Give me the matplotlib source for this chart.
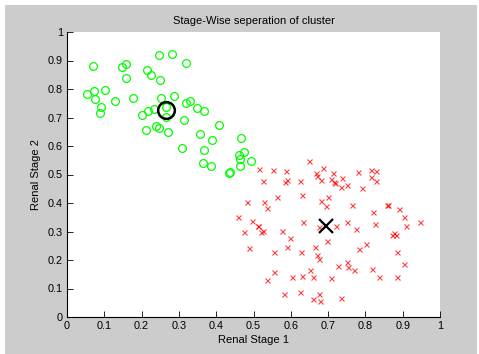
import matplotlib
matplotlib.use("Agg")
import matplotlib.pyplot as plt
from matplotlib.patches import Rectangle

# Cluster 1 (green circles)
green_x = [0.053, 0.071, 0.073, 0.076, 0.092, 0.089, 0.102, 0.129, 0.147, 0.159,
           0.157, 0.177, 0.202, 0.214, 0.225, 0.218, 0.212, 0.233, 0.246, 0.248,
           0.251, 0.239, 0.247, 0.265, 0.265, 0.272, 0.281, 0.286, 0.318, 0.319,
           0.330, 0.315, 0.348, 0.368, 0.308, 0.357, 0.389, 0.368, 0.408, 0.364,
           0.387, 0.435, 0.437, 0.467, 0.474, 0.462, 0.464, 0.465, 0.492]
green_y = [0.781, 0.881, 0.793, 0.765, 0.737, 0.716, 0.798, 0.757, 0.877, 0.887,
           0.840, 0.768, 0.710, 0.868, 0.850, 0.723, 0.655, 0.729, 0.918, 0.830,
           0.768, 0.671, 0.662, 0.737, 0.703, 0.648, 0.924, 0.777, 0.891, 0.751,
           0.757, 0.690, 0.733, 0.724, 0.593, 0.642, 0.622, 0.587, 0.675, 0.539,
           0.529, 0.505, 0.508, 0.628, 0.578, 0.569, 0.554, 0.531, 0.548]

# Cluster 2 (red crosses)
red_x = [0.650, 0.516, 0.553, 0.587, 0.525, 0.589, 0.585, 0.626, 0.668, 0.669,
         0.686, 0.681, 0.714, 0.708, 0.715, 0.719, 0.736, 0.735, 0.751, 0.781,
         0.815, 0.828, 0.816, 0.829, 0.792, 0.564, 0.631, 0.701, 0.682, 0.695,
         0.483, 0.527, 0.537, 0.765, 0.859, 0.860, 0.889, 0.821, 0.458, 0.497,
         0.512, 0.513, 0.526, 0.520, 0.475, 0.576, 0.634, 0.676, 0.720, 0.751,
         0.776, 0.827, 0.903, 0.946, 0.910, 0.870, 0.883, 0.876, 0.598, 0.698,
         0.801, 0.784, 0.488, 0.555, 0.589, 0.628, 0.665, 0.669, 0.676, 0.886,
         0.751, 0.727, 0.754, 0.769, 0.903, 0.818, 0.651, 0.555, 0.537, 0.603,
         0.631, 0.659, 0.707, 0.836, 0.884, 0.583, 0.624, 0.675, 0.660, 0.679,
         0.735]
red_y = [0.546, 0.519, 0.517, 0.513, 0.478, 0.482, 0.473, 0.478, 0.505, 0.495,
         0.523, 0.482, 0.505, 0.484, 0.475, 0.471, 0.488, 0.457, 0.464, 0.508,
         0.516, 0.511, 0.490, 0.478, 0.452, 0.422, 0.429, 0.422, 0.407, 0.391,
         0.404, 0.404, 0.384, 0.393, 0.393, 0.394, 0.379, 0.367, 0.350, 0.338,
         0.318, 0.319, 0.303, 0.297, 0.297, 0.301, 0.333, 0.315, 0.320, 0.333,
         0.308, 0.326, 0.350, 0.333, 0.320, 0.289, 0.288, 0.294, 0.276, 0.268,
         0.255, 0.239, 0.241, 0.227, 0.245, 0.229, 0.247, 0.219, 0.204, 0.229,
         0.194, 0.179, 0.174, 0.165, 0.186, 0.168, 0.165, 0.159, 0.130, 0.141,
         0.145, 0.139, 0.136, 0.141, 0.139, 0.081, 0.087, 0.081, 0.062, 0.057,
         0.066]

# Centroids
centroid_green = (0.265, 0.725)
centroid_red = (0.694, 0.319)

ticks = [0, 0.1, 0.2, 0.3, 0.4, 0.5, 0.6, 0.7, 0.8, 0.9, 1]
tick_labels = ["0", "0.1", "0.2", "0.3", "0.4", "0.5", "0.6", "0.7", "0.8", "0.9", "1"]

plt.rcParams['font.family'] = ['Liberation Sans', 'DejaVu Sans']

W, H = 479, 354
fig = plt.figure(figsize=(W / 100, H / 100), dpi=100, facecolor='white')
fig.patches.append(Rectangle((5 / W, 0), 472 / W, 349 / H, transform=fig.transFigure,
                             facecolor='#cccccc', edgecolor='none', zorder=-10))

ax = fig.add_axes([67 / W, 1 - 317 / H, 373 / W, 285 / H])
ax.set_facecolor('white')

ax.plot(red_x, red_y, linestyle='none', marker='x', color='#ff0000',
        markersize=3.6, markeredgewidth=0.8, alpha=0.75)
ax.plot(green_x, green_y, linestyle='none', marker='o', markerfacecolor='none',
        markeredgecolor='#00ff00', markersize=5.6, markeredgewidth=0.9)
ax.plot([centroid_green[0]], [centroid_green[1]], linestyle='none', marker='o',
        markerfacecolor='none', markeredgecolor='black', markersize=12, markeredgewidth=1.8)
ax.plot([centroid_red[0]], [centroid_red[1]], linestyle='none', marker='x',
        color='black', markersize=10, markeredgewidth=1.6)

ax.set_xlim(0, 1)
ax.set_ylim(0, 1)
ax.set_xticks(ticks)
ax.set_xticklabels(tick_labels)
ax.set_yticks(ticks)
ax.set_yticklabels(tick_labels)
ax.tick_params(direction='in', length=4, width=0.6, labelsize=7.8, pad=3, colors='black')
for s in ['top', 'right']:
    ax.spines[s].set_visible(False)
for s in ['left', 'bottom']:
    ax.spines[s].set_linewidth(0.8)

ax.set_title("Stage-Wise seperation of cluster", fontsize=8, pad=6)
ax.set_xlabel("Renal Stage 1", fontsize=8, labelpad=3)
ax.set_ylabel("Renal Stage 2", fontsize=8, labelpad=5)

fig.savefig("out.png", dpi=100, facecolor=fig.get_facecolor())
